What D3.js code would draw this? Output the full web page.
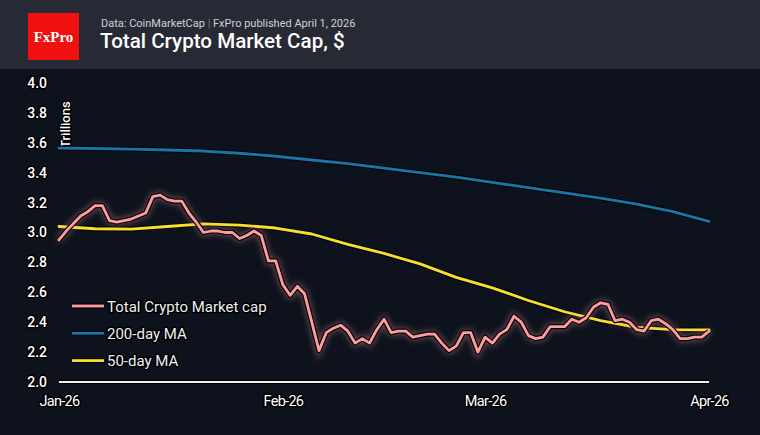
<!DOCTYPE html>
<html>
<head>
<meta charset="utf-8">
<script src="https://cdn.jsdelivr.net/npm/d3@7"></script>
<style>
  body { margin: 0; background: #0d121d; }
  svg { display: block; font-family: Roboto, "Noto Sans", sans-serif; }
</style>
</head>
<body>
<div id="chart"></div>
<script>
var WIDTH = 760;
var HEIGHT = 435;

// daily total market cap, Jan 1 .. Apr 1 2026 (trillions $)
var capValues = [
  2.95, 3.01, 3.06, 3.11, 3.14, 3.18, 3.18, 3.08, 3.07, 3.08,
  3.09, 3.11, 3.13, 3.24, 3.25, 3.22, 3.21, 3.21, 3.13, 3.07,
  3.00, 3.01, 3.01, 3.00, 3.00, 2.96, 2.98, 3.01, 2.98, 2.81,
  2.81, 2.65, 2.58, 2.64, 2.59, 2.40, 2.21, 2.33, 2.36, 2.38,
  2.34, 2.26, 2.29, 2.26, 2.35, 2.42, 2.33, 2.34, 2.34, 2.30,
  2.31, 2.32, 2.32, 2.26, 2.21, 2.24, 2.33, 2.33, 2.20, 2.30,
  2.26, 2.32, 2.35, 2.44, 2.40, 2.31, 2.29, 2.30, 2.37, 2.37,
  2.37, 2.42, 2.40, 2.43, 2.50, 2.53, 2.52, 2.41, 2.42, 2.40,
  2.35, 2.34, 2.41, 2.42, 2.39, 2.35, 2.29, 2.29, 2.30, 2.30,
  2.34
];
// moving averages sampled every 5 days from Jan 1
var maDays = [0, 5, 10, 15, 20, 25, 30, 35, 40, 45, 50, 55, 60, 65, 70, 75, 80, 85, 90];
var ma200 = [3.565, 3.562, 3.558, 3.552, 3.545, 3.53, 3.51, 3.485, 3.46, 3.43,
             3.40, 3.37, 3.335, 3.30, 3.265, 3.23, 3.19, 3.14, 3.075];
var ma50 = [3.04, 3.025, 3.022, 3.04, 3.058, 3.05, 3.03, 2.99, 2.92, 2.86,
            2.79, 2.70, 2.63, 2.545, 2.47, 2.41, 2.366, 2.35, 2.348];

var yTicks = [2.0, 2.2, 2.4, 2.6, 2.8, 3.0, 3.2, 3.4, 3.6, 3.8, 4.0];
var xTickDates = ["2026-01-01", "2026-02-01", "2026-03-01", "2026-04-01"];
var seriesNames = ["Total Crypto Market cap", "200-day MA", "50-day MA"];
var seriesColors = ["#ff9c9c", "#1c74a3", "#f7e02c"];

var parseDate = d3.utcParse("%Y-%m-%d");
var startDate = parseDate("2026-01-01");
function dayToDate(d) { return d3.utcDay.offset(startDate, d); }

var capData = capValues.map((v, i) => ({date: dayToDate(i), value: v}));
var ma200Data = maDays.map((d, i) => ({date: dayToDate(d), value: ma200[i]}));
var ma50Data = maDays.map((d, i) => ({date: dayToDate(d), value: ma50[i]}));

var svg = d3.select("#chart").append("svg")
  .attr("width", WIDTH)
  .attr("height", HEIGHT);

svg.append("rect").attr("width", WIDTH).attr("height", HEIGHT).attr("fill", "#0d121d");

// header band
svg.append("rect").attr("width", WIDTH).attr("height", 69).attr("fill", "#272a35");
svg.append("rect").attr("x", 28).attr("y", 13).attr("width", 51).attr("height", 47).attr("fill", "#f0100f");
svg.append("text")
  .attr("x", 53.5).attr("y", 42)
  .attr("text-anchor", "middle")
  .style("font-family", "'Liberation Serif', 'DejaVu Serif', serif")
  .style("font-weight", "bold")
  .style("font-size", "15px")
  .attr("fill", "#fff")
  .text("FxPro");

var sub = svg.append("text")
  .attr("x", 101).attr("y", 27)
  .style("font-size", "11px")
  .attr("fill", "#cfd1d6");
sub.append("tspan").text("Data: CoinMarketCap ");
sub.append("tspan").attr("fill", "#777").text("|");
sub.append("tspan").text(" FxPro published April 1, 2026");

svg.append("text")
  .attr("x", 100).attr("y", 48)
  .style("font-size", "20.6px")
  .style("font-weight", 500)
  .attr("fill", "#fff")
  .text("Total Crypto Market Cap, $");

// scales
var x = d3.scaleUtc()
  .domain([startDate, parseDate("2026-04-01")])
  .range([59, 709]);
var y = d3.scaleLinear()
  .domain([2.0, 4.0])
  .range([382, 83]);

function outlined(sel) {
  return sel.attr("stroke", "#000").attr("stroke-width", 3)
    .attr("paint-order", "stroke").attr("stroke-linejoin", "round");
}

// y axis
var yAxis = svg.append("g")
  .attr("transform", "translate(47,0)")
  .call(d3.axisLeft(y).tickValues(yTicks).tickFormat(d3.format(".1f")).tickSize(0).tickPadding(0));
yAxis.select(".domain").remove();
outlined(yAxis.selectAll("text")
  .attr("fill", "#fff")
  .style("font-size", "14px")
  .style("font-family", "Roboto, sans-serif")
  .style("font-weight", 500));

outlined(svg.append("text")
  .attr("transform", "translate(70,148) rotate(-90)")
  .style("font-size", "13px")
  .style("font-weight", 500)
  .attr("fill", "#fff")
  .text("Trillions"));

// x axis
var xAxis = svg.append("g")
  .attr("transform", "translate(0,382)")
  .call(d3.axisBottom(x).tickValues(xTickDates.map(parseDate))
    .tickFormat(d3.utcFormat("%b-%y")).tickSize(0).tickPadding(14));
xAxis.select(".domain").attr("stroke", "none");
outlined(xAxis.selectAll("text")
  .attr("fill", "#fff")
  .style("font-size", "14.5px")
  .style("font-family", "Roboto, sans-serif")
  .style("letter-spacing", "-0.7px"));

svg.append("line")
  .attr("x1", x.range()[0]).attr("x2", x.range()[1])
  .attr("y1", 382).attr("y2", 382)
  .attr("stroke", "#000").attr("stroke-width", 4.5);
svg.append("line")
  .attr("x1", x.range()[0]).attr("x2", x.range()[1])
  .attr("y1", 382).attr("y2", 382)
  .attr("stroke", "#f2f2f2").attr("stroke-width", 2);

// glow for the main series
var defs = svg.append("defs");
defs.append("filter").attr("id", "glow")
  .attr("x", "-5%").attr("y", "-10%").attr("width", "110%").attr("height", "120%")
  .append("feGaussianBlur").attr("stdDeviation", 3);

var line = d3.line()
  .x(d => x(d.date))
  .y(d => y(d.value));

function drawSeries(data, color, glow) {
  if(glow) {
    svg.append("path").datum(data)
      .attr("d", line).attr("fill", "none")
      .attr("stroke", color).attr("stroke-opacity", 0.45).attr("stroke-width", 6)
      .attr("filter", "url(#glow)");
  }
  svg.append("path").datum(data)
    .attr("d", line).attr("fill", "none")
    .attr("stroke", "#03060c").attr("stroke-width", 5.2).attr("stroke-linejoin", "round");
  svg.append("path").datum(data)
    .attr("d", line).attr("fill", "none")
    .attr("stroke", color).attr("stroke-width", 2.8)
    .attr("stroke-linejoin", "round").attr("stroke-linecap", "round");
}

drawSeries(ma200Data, seriesColors[1], false);
drawSeries(ma50Data, seriesColors[2], false);
drawSeries(capData, seriesColors[0], true);

// legend
var legend = svg.append("g").attr("transform", "translate(72,306)");
seriesNames.forEach(function(name, i) {
  var g = legend.append("g").attr("transform", "translate(0," + (i * 27.3) + ")");
  g.append("line").attr("x1", 0).attr("x2", 32).attr("y1", 0).attr("y2", 0)
    .attr("stroke", "#03060c").attr("stroke-width", 5);
  g.append("line").attr("x1", 0).attr("x2", 32).attr("y1", 0).attr("y2", 0)
    .attr("stroke", seriesColors[i]).attr("stroke-width", 2.8);
  outlined(g.append("text")
    .attr("x", 35).attr("y", 5.5)
    .style("font-size", "15px")
    .attr("fill", "#eceff2")
    .text(name));
});
</script>
</body>
</html>
